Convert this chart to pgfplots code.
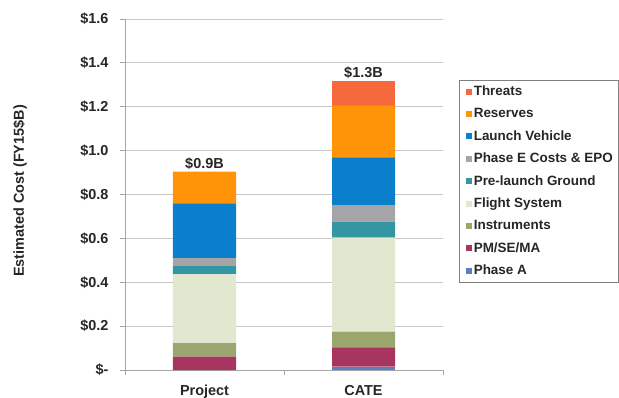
\documentclass[border=0pt]{standalone}
\usepackage{fontspec}
\setmainfont{Liberation Sans}
\usepackage{pgfplots}
\pgfplotsset{compat=1.18}

\definecolor{cThreats}{HTML}{F5693C}
\definecolor{cReserves}{HTML}{FF9408}
\definecolor{cLV}{HTML}{0A7FCC}
\definecolor{cPhaseE}{HTML}{A5A5A8}
\definecolor{cPreGround}{HTML}{3596A3}
\definecolor{cFlight}{HTML}{E1E8CF}
\definecolor{cInstr}{HTML}{9BA56E}
\definecolor{cPM}{HTML}{A73560}
\definecolor{cPhaseA}{HTML}{5B7FBF}
\definecolor{axisgray}{HTML}{A6A6A6}
\definecolor{gridgray}{HTML}{C8C8C8}
\definecolor{txt}{HTML}{262626}

\begin{document}
\begin{tikzpicture}
\begin{axis}[
    scale only axis,
    width=318bp, height=351bp,
    ybar stacked, bar width=63bp,
    xmin=-0.5, xmax=1.5, ymin=0, ymax=1.6,
    xtick={0,1}, xticklabels={Project,CATE},
    minor xtick={-0.5,0.5,1.5},
    ytick={0,0.2,0.4,0.6,0.8,1.0,1.2,1.4,1.6},
    yticklabels={\$-,\$0.2,\$0.4,\$0.6,\$0.8,\$1.0,\$1.2,\$1.4,\$1.6},
    axis x line*=bottom, axis y line*=left,
    axis line style={-, draw=axisgray, line width=0.8bp},
    ymajorgrids, major grid style={draw=gridgray, line width=0.8bp},
    tick align=outside,
    major x tick style={draw=none},
    major y tick style={draw=axisgray, line width=0.8bp},
    minor x tick style={draw=axisgray, line width=0.8bp},
    major tick length=5bp, minor tick length=5bp,
    ticklabel style={font=\fontsize{14.5}{16}\selectfont\bfseries, text=txt},
    xticklabel style={yshift=-7bp},
    yticklabel style={xshift=-8bp},
    ylabel={Estimated Cost (FY15\$B)},
    ylabel style={at={(axis description cs:-0.33,0.51)}, anchor=center,
        font=\fontsize{14.5}{16}\selectfont\bfseries, text=txt},
    reverse legend,
    legend cell align=left,
    legend image code/.code={\path (0bp,0bp); \path[#1,draw=none] (3bp,-3bp) rectangle (9bp,3bp);},
    legend style={at={(axis description cs:1.05,0.826)}, anchor=north west,
        draw=gray, line width=0.8bp, inner sep=3.5bp,
        font=\fontsize{13.5}{15}\selectfont\bfseries, text=txt,
        row sep=7.3bp},
]
\addplot[fill=cPhaseA, draw=none] coordinates {(0,0) (1,0.015)};
\addlegendentry{Phase A}
\addplot[fill=cPM, draw=none] coordinates {(0,0.061) (1,0.088)};
\addlegendentry{PM/SE/MA}
\addplot[fill=cInstr, draw=none] coordinates {(0,0.061) (1,0.072)};
\addlegendentry{Instruments}
\addplot[fill=cFlight, draw=none] coordinates {(0,0.315) (1,0.428)};
\addlegendentry{Flight System}
\addplot[fill=cPreGround, draw=none] coordinates {(0,0.037) (1,0.073)};
\addlegendentry{Pre-launch Ground}
\addplot[fill=cPhaseE, draw=none] coordinates {(0,0.036) (1,0.076)};
\addlegendentry{Phase E Costs \& EPO}
\addplot[fill=cLV, draw=none] coordinates {(0,0.250) (1,0.217)};
\addlegendentry{Launch Vehicle}
\addplot[fill=cReserves, draw=none] coordinates {(0,0.144) (1,0.236)};
\addlegendentry{Reserves}
\addplot[fill=cThreats, draw=none] coordinates {(0,0) (1,0.112)};
\addlegendentry{Threats}
\node[anchor=south, inner sep=2bp, font=\fontsize{14.5}{16}\selectfont\bfseries, text=txt]
    at (axis cs:0,0.904) {\$0.9B};
\node[anchor=south, inner sep=2bp, font=\fontsize{14.5}{16}\selectfont\bfseries, text=txt]
    at (axis cs:1,1.317) {\$1.3B};
\end{axis}
\pgfresetboundingbox
\path[use as bounding box] (-125bp,-28bp) rectangle (494bp,370bp);
\end{tikzpicture}
\end{document}
